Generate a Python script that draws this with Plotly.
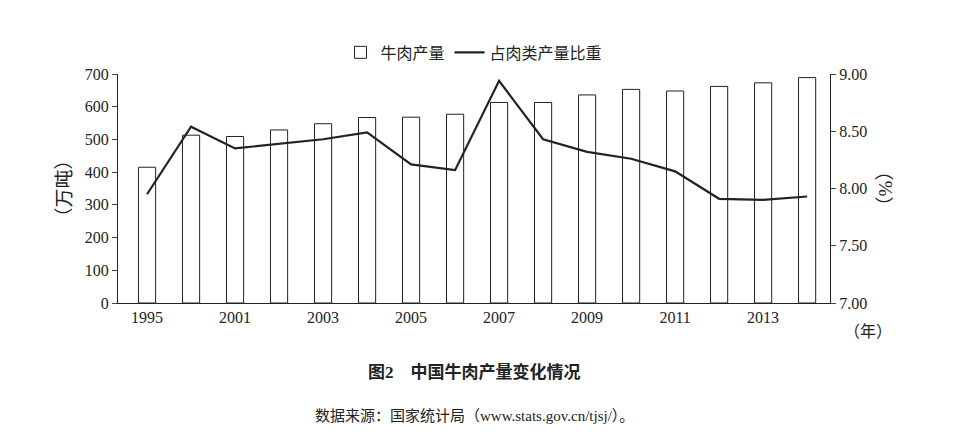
import plotly.graph_objects as go

years = ["1995", "2000", "2001", "2002", "2003", "2004", "2005", "2006",
         "2007", "2008", "2009", "2010", "2011", "2012", "2013", "2014"]
beef_output = [415, 513, 509, 529, 548, 567, 568, 577,
               613, 613, 636, 653, 648, 662, 673, 689]
share_pct = [7.95, 8.54, 8.35, 8.39, 8.43, 8.49, 8.21, 8.16,
             8.94, 8.43, 8.32, 8.26, 8.15, 7.91, 7.90, 7.93]
tick_labels = ["1995", "", "2001", "", "2003", "", "2005", "",
               "2007", "", "2009", "", "2011", "", "2013", ""]

FONT = "Liberation Serif, Noto Sans CJK SC"
x = list(range(len(years)))

fig = go.Figure()
fig.add_trace(go.Bar(x=x, y=beef_output, name="牛肉产量", width=0.39,
                     marker=dict(color="white", line=dict(color="#222", width=1))))
fig.add_trace(go.Scatter(x=x, y=share_pct, name="占肉类产量比重", yaxis="y2",
                         mode="lines", line=dict(color="#222", width=2.2)))

fig.update_layout(
    width=971, height=438, plot_bgcolor="white", paper_bgcolor="white",
    margin=dict(l=110, r=149, t=66, b=143, autoexpand=False),
    font=dict(family=FONT, size=16, color="#222"),
    showlegend=True,
    legend=dict(orientation="h", x=0.5, xanchor="center", y=1.02, yanchor="bottom",
                font=dict(size=16)),
    xaxis=dict(range=[-0.66, 15.52], tickmode="array", tickvals=x, ticktext=tick_labels,
               showline=True, linecolor="#222", showgrid=False, ticks=""),
    yaxis=dict(range=[0, 700], dtick=100, showline=True, linecolor="#222",
               ticks="outside", ticklen=5, showgrid=False,
               title=dict(text="（万吨）", standoff=8)),
    yaxis2=dict(range=[7, 9], dtick=0.5, tickformat=".2f", overlaying="y", side="right",
                showline=True, linecolor="#222", ticks="outside", ticklen=5, showgrid=False,
                title=dict(text="（%）", standoff=12)),
    annotations=[
        dict(text="（年）", x=1.09, y=-0.08, xref="paper", yref="paper",
             showarrow=False, yanchor="top", font=dict(size=16)),
        dict(text="<b>图2　中国牛肉产量变化情况</b>", x=0.5, y=-0.25, xref="paper", yref="paper",
             showarrow=False, yanchor="top", font=dict(size=17)),
        dict(text="数据来源：国家统计局（www.stats.gov.cn/tjsj/）。", x=0.5, y=-0.45,
             xref="paper", yref="paper", showarrow=False, yanchor="top", font=dict(size=15)),
    ],
)

fig.write_html("out.html")
